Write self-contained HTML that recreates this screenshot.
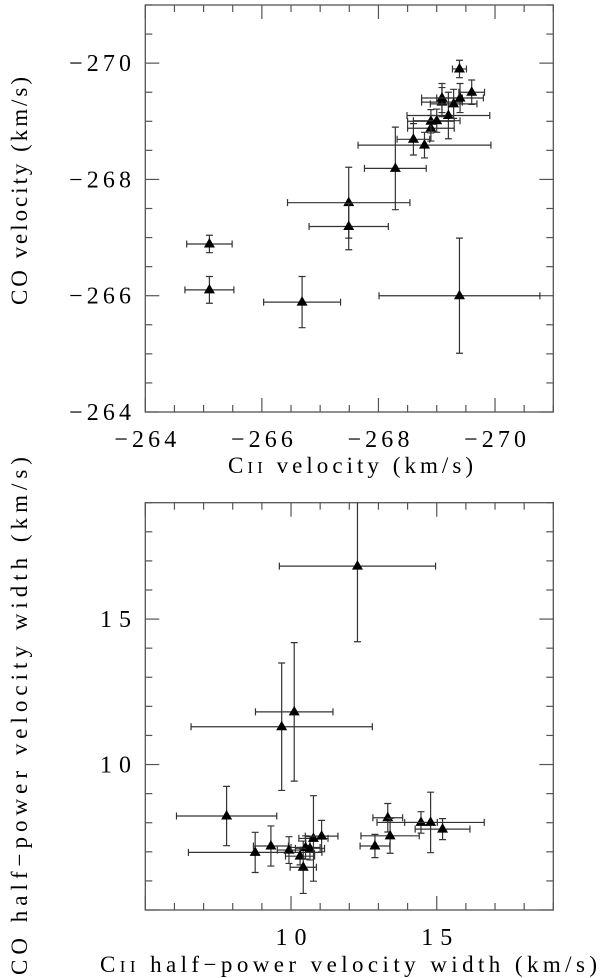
<!DOCTYPE html>
<html><head><meta charset="utf-8"><style>
html,body{margin:0;padding:0;background:#fff;}
svg{display:block;}
text{font-family:"Liberation Serif",serif;fill:#000;}
</style></head><body>
<svg id="chart" width="600" height="978" viewBox="0 0 600 978">
<g id="top"></g>
<g id="bot"></g>
</svg>
<script>
// Top panel data: CII velocity vs CO velocity
const topCII = [-265.10,-265.10,-266.69,-269.39,-267.49,-267.49,-268.29,-268.60,-268.79,-268.90,-268.90,-269.00,-269.20,-269.09,-269.09,-269.29,-269.40,-269.60,-269.39];
const topCIIerr = [0.39,0.42,0.66,1.38,1.05,0.68,0.53,0.28,1.14,0.40,0.40,0.40,0.71,0.35,0.35,0.40,0.40,0.22,0.12];
const topCO = [-266.89,-266.10,-265.89,-266.00,-267.60,-267.19,-268.19,-268.69,-268.59,-268.88,-269.00,-269.01,-269.10,-269.33,-269.40,-269.30,-269.40,-269.50,-269.90];
const topCOerr = [0.15,0.23,0.44,0.99,0.61,0.40,0.71,0.27,0.22,0.22,0.20,0.20,0.40,0.25,0.25,0.25,0.25,0.21,0.15];
const topTicks = ["\u2212264","\u2212266","\u2212268","\u2212270"];
const topTickVals = [-264,-266,-268,-270];
// Bottom panel data: CII width vs CO width
const botCII = [12.28,9.68,10.11,7.79,8.77,9.31,9.93,10.31,10.42,10.50,10.65,10.77,11.05,12.88,13.32,13.40,14.46,14.79,15.20];
const botCIIerr = [2.68,3.11,1.33,1.72,2.29,0.60,0.40,0.50,0.45,0.50,0.50,0.50,0.56,0.51,0.51,1.00,0.56,1.84,0.94];
const botCO = [16.82,11.30,11.81,8.23,6.98,7.20,7.06,6.85,6.47,7.15,7.12,7.46,7.54,7.20,8.17,7.55,8.01,8.01,7.78];
const botCOerr = [2.60,2.19,2.38,1.02,0.69,0.69,0.46,0.30,0.90,0.40,0.40,1.47,0.54,0.40,0.49,0.60,0.37,1.04,0.36];
const botTicks = ["10","15"];
const botTickVals = [10,15];

const NS="http://www.w3.org/2000/svg";
function mk(parent,tag,attrs){const e=document.createElementNS(NS,tag);for(const k in attrs)e.setAttribute(k,attrs[k]);parent.appendChild(e);return e;}

function panel(g,cfg){
  const L=145.3,R=553.3,T=cfg.top,B=cfg.bottom;
  const sx=v=>L+(v-cfg.x0)/(cfg.x1-cfg.x0)*(R-L);
  const sy=v=>B-(v-cfg.y0)/(cfg.y1-cfg.y0)*(B-T);
  const frame=mk(g,'rect',{x:L,y:T,width:R-L,height:B-T,fill:'none',stroke:'#555','stroke-width':1.3});
  
  
  for(let v=cfg.x0;(cfg.x1>cfg.x0?v<=cfg.x1+1e-9:v>=cfg.x1-1e-9);v+=cfg.xminor){
    const major=Math.abs(v/cfg.xmajor-Math.round(v/cfg.xmajor))<1e-6;
    const len=major?14:7;const x=sx(v);
    const t1=mk(g,'line',{x1:x,y1:B,x2:x,y2:B-len,stroke:'#555','stroke-width':1.2});
    
    
    const t2=mk(g,'line',{x1:x,y1:T,x2:x,y2:T+len,stroke:'#555','stroke-width':1.2});
    
    
  }
  for(let v=cfg.y0;(cfg.y1>cfg.y0?v<=cfg.y1+1e-9:v>=cfg.y1-1e-9);v+=cfg.yminor){
    const major=Math.abs(v/cfg.ymajor-Math.round(v/cfg.ymajor))<1e-6;
    const len=major?14:7;const y=sy(v);
    const t1=mk(g,'line',{x1:L,y1:y,x2:L+len,y2:y,stroke:'#555','stroke-width':1.2});
    
    
    const t2=mk(g,'line',{x1:R,y1:y,x2:R-len,y2:y,stroke:'#555','stroke-width':1.2});
    
    
  }
  cfg.xlabVals.forEach((v,i)=>{
    const s=cfg.xlabs[i];
    const t=mk(g,'text',{x:sx(v),y:cfg.xlabY,'text-anchor':'middle','font-size':24,textLength:s.length*15.5,lengthAdjust:'spacing'});
    t.textContent=s;
    
    
  });
  cfg.ylabVals.forEach((v,i)=>{
    const s=cfg.ylabs[i];
    const w=s.length*15.5;
    const t=mk(g,'text',{x:131-w,y:sy(v)+8,'font-size':24,textLength:w,lengthAdjust:'spacing'});
    t.textContent=s;
    
    
  });
  const cl=mk(g,'g',{});
  
  
  const clip=v=>Math.max(T,Math.min(B,v));
  for(let i=0;i<cfg.xs.length;i++){
    const x=sx(cfg.xs[i]),y=sy(cfg.ys[i]);
    const xa=sx(cfg.xs[i]-cfg.xe[i]),xb=sx(cfg.xs[i]+cfg.xe[i]);
    const ya=sy(cfg.ys[i]-cfg.ye[i]),yb=sy(cfg.ys[i]+cfg.ye[i]);
    const st={stroke:'#333','stroke-width':1.2};
    const eb=mk(cl,'path',Object.assign({fill:'none',d:
      `M${xa},${y}H${xb}M${xa},${y-3.5}V${y+3.5}M${xb},${y-3.5}V${y+3.5}`+
      `M${x},${clip(ya)}V${clip(yb)}`+
      (ya>=T&&ya<=B?`M${x-3.5},${ya}H${x+3.5}`:'')+
      (yb>=T&&yb<=B?`M${x-3.5},${yb}H${x+3.5}`:'')},st));
    
    
    const tri=mk(cl,'path',{d:`M${x},${y-6}L${x+5.5},${y+3.5}L${x-5.5},${y+3.5}Z`,fill:'#000'});
    
    
  }
  return {sx,sy};
}

panel(document.getElementById('top'),{top:5,bottom:412,x0:-264,x1:-271,y0:-264,y1:-271,
  xminor:-0.5,xmajor:2,yminor:-0.5,ymajor:2,
  xlabs:topTicks,xlabVals:topTickVals,xlabY:447,
  ylabs:topTicks,ylabVals:topTickVals,
  xs:topCII,xe:topCIIerr,ys:topCO,ye:topCOerr});
panel(document.getElementById('bot'),{top:502.7,bottom:910,x0:5,x1:19,y0:5,y1:19,
  xminor:1,xmajor:5,yminor:1,ymajor:5,
  xlabs:botTicks,xlabVals:botTickVals,xlabY:945,
  ylabs:botTicks,ylabVals:botTickVals,
  xs:botCII,xe:botCIIerr,ys:botCO,ye:botCOerr});
</script>
<script>
(function(){
const svg=document.getElementById('chart');
function T(name,attrs,html){const t=document.createElementNS("http://www.w3.org/2000/svg",'text');for(const k in attrs)t.setAttribute(k,attrs[k]);t.innerHTML=html;svg.appendChild(t);

}
T('top-x-axis-title',{x:228,y:473,'font-size':23,textLength:245,lengthAdjust:'spacing'},'C<tspan font-size="17">II</tspan> velocity (km/s)');
T('bottom-x-axis-title',{x:100,y:972,'font-size':23,textLength:497,lengthAdjust:'spacing'},'C<tspan font-size="17">II</tspan> half−power velocity width (km/s)');
T('top-y-axis-title',{x:0,y:0,'font-size':23,transform:'translate(27,305) rotate(-90)',textLength:228,lengthAdjust:'spacing'},'CO velocity (km/s)');
T('bottom-y-axis-title',{x:0,y:0,'font-size':23,transform:'translate(27,975) rotate(-90)',textLength:518,lengthAdjust:'spacing'},'CO half−power velocity width (km/s)');
})();
</script>
</body></html>
